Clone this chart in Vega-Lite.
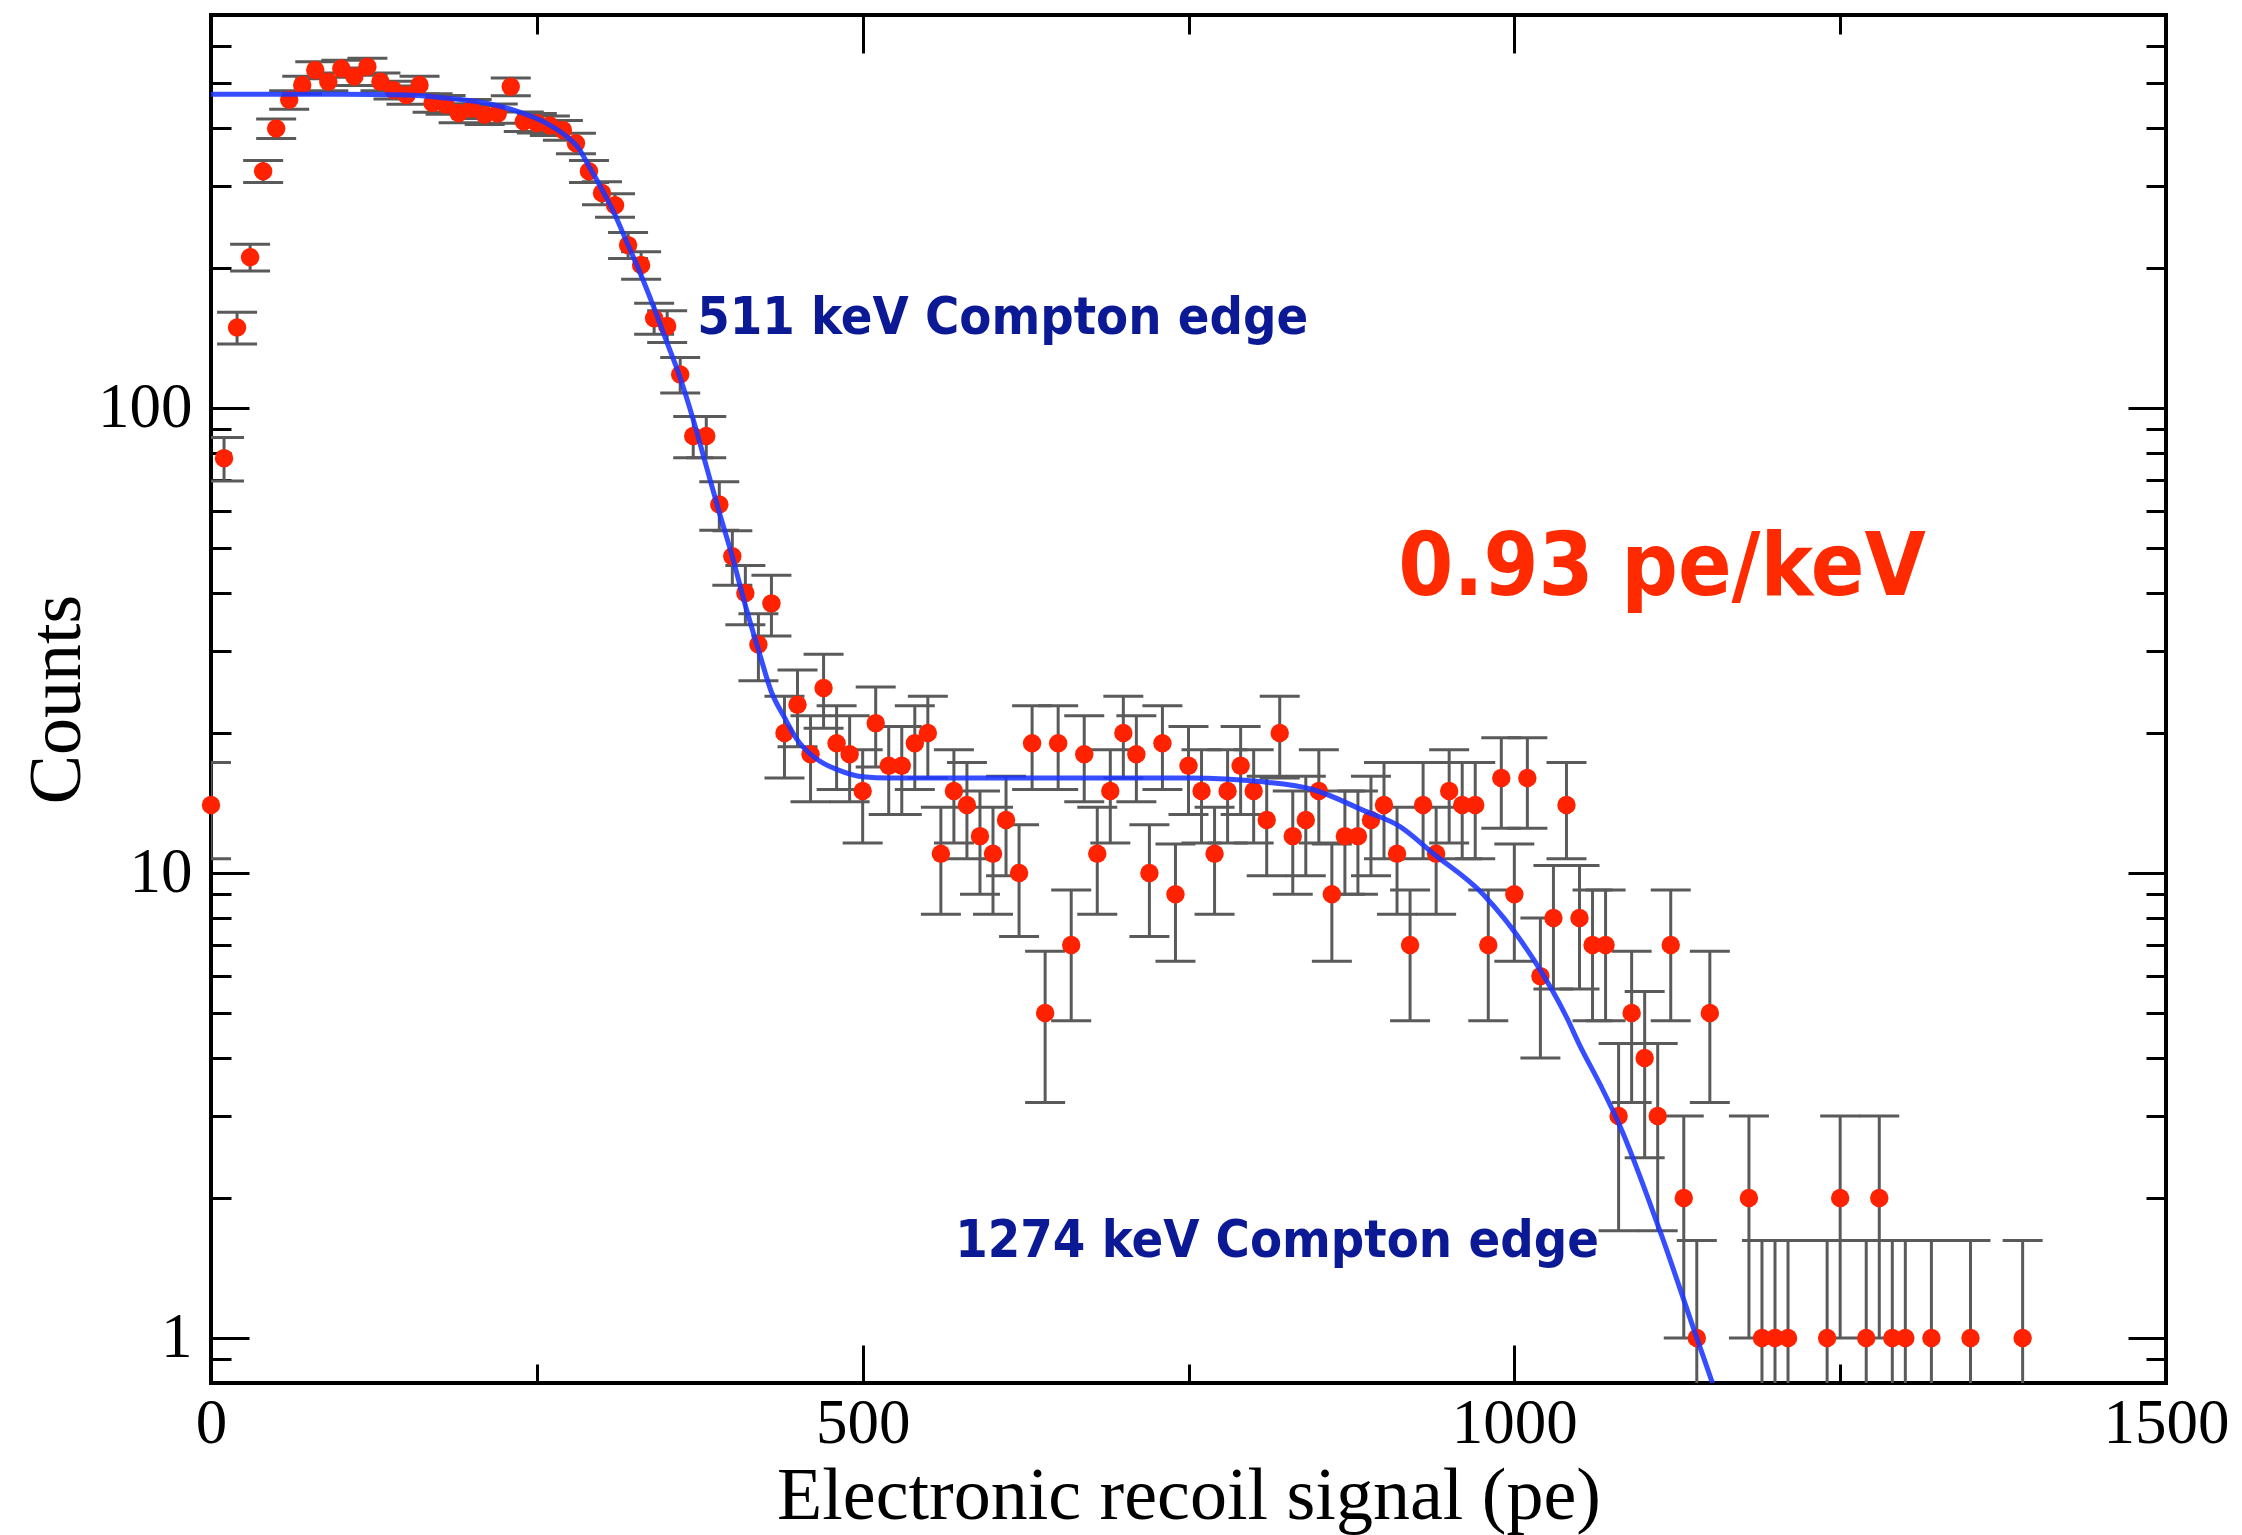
{
  "$schema": "https://vega.github.io/schema/vega-lite/v6.json",
  "width": 1955,
  "height": 1368,
  "autosize": {"type": "none"},
  "padding": {"left": 211, "top": 15, "right": 76, "bottom": 152},
  "background": "white",
  "config": {
    "view": {"stroke": "black", "strokeWidth": 4},
    "axis": {
      "grid": false,
      "domain": false,
      "tickColor": "black",
      "tickWidth": 3,
      "labelFont": "Liberation Serif",
      "labelFontSize": 63,
      "labelColor": "black",
      "titleFont": "Liberation Serif",
      "titleFontSize": 74,
      "titleFontWeight": "normal",
      "titleColor": "black"
    }
  },
  "datasets": {
    "pts": [
      {"x":0,"n":14,"lo":10.73,"hi":17.27},
      {"x":10,"n":78,"lo":69.65,"hi":86.35},
      {"x":20,"n":149,"lo":137.28,"hi":160.72},
      {"x":30,"n":211,"lo":196.97,"hi":225.03},
      {"x":40,"n":323,"lo":305.52,"hi":340.48},
      {"x":50,"n":399,"lo":379.52,"hi":418.48},
      {"x":60,"n":460,"lo":439.05,"hi":480.95},
      {"x":70,"n":495,"lo":473.25,"hi":516.75},
      {"x":80,"n":533,"lo":510.41,"hi":555.59},
      {"x":90,"n":503,"lo":481.07,"hi":524.93},
      {"x":100,"n":537,"lo":514.32,"hi":559.68},
      {"x":110,"n":516,"lo":493.78,"hi":538.22},
      {"x":120,"n":542,"lo":519.21,"hi":564.79},
      {"x":130,"n":503,"lo":481.07,"hi":524.93},
      {"x":140,"n":483,"lo":461.52,"hi":504.48},
      {"x":150,"n":471,"lo":449.79,"hi":492.21},
      {"x":160,"n":495,"lo":473.25,"hi":516.75},
      {"x":170,"n":453,"lo":432.21,"hi":473.79},
      {"x":180,"n":449,"lo":428.3,"hi":469.7},
      {"x":190,"n":431,"lo":410.73,"hi":451.27},
      {"x":200,"n":440,"lo":419.52,"hi":460.48},
      {"x":210,"n":427,"lo":406.83,"hi":447.17},
      {"x":220,"n":430,"lo":409.76,"hi":450.24},
      {"x":230,"n":491,"lo":469.34,"hi":512.66},
      {"x":240,"n":413,"lo":393.17,"hi":432.83},
      {"x":250,"n":410,"lo":390.25,"hi":429.76},
      {"x":260,"n":405,"lo":385.37,"hi":424.63},
      {"x":270,"n":396,"lo":376.59,"hi":415.41},
      {"x":280,"n":371,"lo":352.23,"hi":389.77},
      {"x":290,"n":323,"lo":305.52,"hi":340.48},
      {"x":300,"n":290,"lo":273.46,"hi":306.54},
      {"x":310,"n":273,"lo":256.97,"hi":289.03},
      {"x":320,"n":224,"lo":209.53,"hi":238.48},
      {"x":330,"n":203,"lo":189.24,"hi":216.76},
      {"x":340,"n":156,"lo":144,"hi":168},
      {"x":350,"n":150,"lo":138.24,"hi":161.76},
      {"x":360,"n":118,"lo":107.63,"hi":128.37},
      {"x":370,"n":87,"lo":78.16,"hi":95.84},
      {"x":380,"n":87,"lo":78.16,"hi":95.84},
      {"x":390,"n":62,"lo":54.61,"hi":69.39},
      {"x":400,"n":48,"lo":41.55,"hi":54.45},
      {"x":410,"n":40,"lo":34.16,"hi":45.84},
      {"x":420,"n":31,"lo":25.91,"hi":36.09},
      {"x":430,"n":38,"lo":32.32,"hi":43.68},
      {"x":440,"n":20,"lo":16,"hi":24},
      {"x":450,"n":23,"lo":18.68,"hi":27.32},
      {"x":460,"n":18,"lo":14.23,"hi":21.77},
      {"x":470,"n":25,"lo":20.48,"hi":29.52},
      {"x":480,"n":19,"lo":15.11,"hi":22.89},
      {"x":490,"n":18,"lo":14.23,"hi":21.77},
      {"x":500,"n":15,"lo":11.6,"hi":18.4},
      {"x":510,"n":21,"lo":16.89,"hi":25.11},
      {"x":520,"n":17,"lo":13.35,"hi":20.65},
      {"x":530,"n":17,"lo":13.35,"hi":20.65},
      {"x":540,"n":19,"lo":15.11,"hi":22.89},
      {"x":550,"n":20,"lo":16,"hi":24},
      {"x":560,"n":11,"lo":8.15,"hi":13.85},
      {"x":570,"n":15,"lo":11.6,"hi":18.4},
      {"x":580,"n":14,"lo":10.73,"hi":17.27},
      {"x":590,"n":12,"lo":9,"hi":15},
      {"x":600,"n":11,"lo":8.15,"hi":13.85},
      {"x":610,"n":13,"lo":9.86,"hi":16.14},
      {"x":620,"n":10,"lo":7.3,"hi":12.7},
      {"x":630,"n":19,"lo":15.11,"hi":22.89},
      {"x":640,"n":5,"lo":3.21,"hi":6.79},
      {"x":650,"n":19,"lo":15.11,"hi":22.89},
      {"x":660,"n":7,"lo":4.81,"hi":9.19},
      {"x":670,"n":18,"lo":14.23,"hi":21.77},
      {"x":680,"n":11,"lo":8.15,"hi":13.85},
      {"x":690,"n":15,"lo":11.6,"hi":18.4},
      {"x":700,"n":20,"lo":16,"hi":24},
      {"x":710,"n":18,"lo":14.23,"hi":21.77},
      {"x":720,"n":10,"lo":7.3,"hi":12.7},
      {"x":730,"n":19,"lo":15.11,"hi":22.89},
      {"x":740,"n":9,"lo":6.46,"hi":11.54},
      {"x":750,"n":17,"lo":13.35,"hi":20.65},
      {"x":760,"n":15,"lo":11.6,"hi":18.4},
      {"x":770,"n":11,"lo":8.15,"hi":13.85},
      {"x":780,"n":15,"lo":11.6,"hi":18.4},
      {"x":790,"n":17,"lo":13.35,"hi":20.65},
      {"x":800,"n":15,"lo":11.6,"hi":18.4},
      {"x":810,"n":13,"lo":9.86,"hi":16.14},
      {"x":820,"n":20,"lo":16,"hi":24},
      {"x":830,"n":12,"lo":9,"hi":15},
      {"x":840,"n":13,"lo":9.86,"hi":16.14},
      {"x":850,"n":15,"lo":11.6,"hi":18.4},
      {"x":860,"n":9,"lo":6.46,"hi":11.54},
      {"x":870,"n":12,"lo":9,"hi":15},
      {"x":880,"n":12,"lo":9,"hi":15},
      {"x":890,"n":13,"lo":9.86,"hi":16.14},
      {"x":900,"n":14,"lo":10.73,"hi":17.27},
      {"x":910,"n":11,"lo":8.15,"hi":13.85},
      {"x":920,"n":7,"lo":4.81,"hi":9.19},
      {"x":930,"n":14,"lo":10.73,"hi":17.27},
      {"x":940,"n":11,"lo":8.15,"hi":13.85},
      {"x":950,"n":15,"lo":11.6,"hi":18.4},
      {"x":960,"n":14,"lo":10.73,"hi":17.27},
      {"x":970,"n":14,"lo":10.73,"hi":17.27},
      {"x":980,"n":7,"lo":4.81,"hi":9.19},
      {"x":990,"n":16,"lo":12.47,"hi":19.53},
      {"x":1000,"n":9,"lo":6.46,"hi":11.54},
      {"x":1010,"n":16,"lo":12.47,"hi":19.53},
      {"x":1020,"n":6,"lo":4,"hi":8},
      {"x":1030,"n":8,"lo":5.63,"hi":10.37},
      {"x":1040,"n":14,"lo":10.73,"hi":17.27},
      {"x":1050,"n":8,"lo":5.63,"hi":10.37},
      {"x":1060,"n":7,"lo":4.81,"hi":9.19},
      {"x":1070,"n":7,"lo":4.81,"hi":9.19},
      {"x":1080,"n":3,"lo":1.7,"hi":4.3},
      {"x":1090,"n":5,"lo":3.21,"hi":6.79},
      {"x":1100,"n":4,"lo":2.44,"hi":5.56},
      {"x":1110,"n":3,"lo":1.7,"hi":4.3},
      {"x":1120,"n":7,"lo":4.81,"hi":9.19},
      {"x":1130,"n":2,"lo":1,"hi":3},
      {"x":1140,"n":1,"lo":0.38,"hi":1.62},
      {"x":1150,"n":5,"lo":3.21,"hi":6.79},
      {"x":1180,"n":2,"lo":1,"hi":3},
      {"x":1190,"n":1,"lo":0.38,"hi":1.62},
      {"x":1200,"n":1,"lo":0.38,"hi":1.62},
      {"x":1210,"n":1,"lo":0.38,"hi":1.62},
      {"x":1240,"n":1,"lo":0.38,"hi":1.62},
      {"x":1250,"n":2,"lo":1,"hi":3},
      {"x":1270,"n":1,"lo":0.38,"hi":1.62},
      {"x":1280,"n":2,"lo":1,"hi":3},
      {"x":1290,"n":1,"lo":0.38,"hi":1.62},
      {"x":1300,"n":1,"lo":0.38,"hi":1.62},
      {"x":1320,"n":1,"lo":0.38,"hi":1.62},
      {"x":1350,"n":1,"lo":0.38,"hi":1.62},
      {"x":1390,"n":1,"lo":0.38,"hi":1.62}
    ],
    "fit": [
      {"x":0,"y":473},{"x":100,"y":473},{"x":150,"y":471},{"x":180,"y":464},
      {"x":206,"y":455},{"x":231,"y":438},{"x":257,"y":410},{"x":270,"y":389},
      {"x":282,"y":362},{"x":290,"y":331},{"x":300,"y":295},{"x":310,"y":260},
      {"x":320,"y":224},{"x":330,"y":193},{"x":340,"y":164},{"x":350,"y":138},
      {"x":360,"y":116},{"x":370,"y":94.4},{"x":380,"y":75},{"x":390,"y":59.6},
      {"x":400,"y":47.9},{"x":410,"y":37.6},{"x":420,"y":30.2},{"x":430,"y":24.5},
      {"x":440,"y":21.6},{"x":450,"y":19.3},{"x":460,"y":18.0},{"x":470,"y":17.2},
      {"x":480,"y":16.7},{"x":500,"y":16.1},{"x":520,"y":16.0},{"x":750,"y":16.0},
      {"x":807,"y":15.7},{"x":846,"y":15.1},{"x":885,"y":13.6},{"x":912,"y":12.6},
      {"x":938,"y":11.0},{"x":976,"y":9.0},{"x":1015,"y":6.5},{"x":1040,"y":4.9},
      {"x":1050,"y":4.27},{"x":1066,"y":3.5},{"x":1080,"y":2.9},{"x":1112,"y":1.69},
      {"x":1140,"y":1.0},{"x":1152,"y":0.8},{"x":1160,"y":0.69}
    ]
  },
  "resolve": {"axis": {"x": "independent", "y": "independent"}},
  "layer": [
    {
      "data": {"name": "pts"},
      "mark": {"type": "rule", "color": "#5a5a5a", "strokeWidth": 3, "clip": true},
      "encoding": {
        "x": {"field": "x", "type": "quantitative", "scale": {"domain": [0, 1500], "nice": false, "zero": false},
              "axis": {"orient": "bottom", "values": [0, 500, 1000, 1500], "format": "d", "ticks": false, "tickSize": 0, "labelPadding": 9, "labelFlush": false, "labelOverlap": false, "labelBound": false,
                       "title": "Electronic recoil signal (pe)", "titleY": 135, "titleBaseline": "alphabetic", "titleAlign": "center"}},
        "y": {"field": "lo", "type": "quantitative", "scale": {"type": "log", "domain": [0.8, 700], "nice": false},
              "axis": {"orient": "left", "values": [1, 10, 100], "format": "d", "ticks": false, "tickSize": 0, "labelPadding": 19, "labelOverlap": false, "labelBound": false,
                       "title": "Counts", "titleX": -132, "titleY": 684, "titleAngle": 270, "titleAlign": "center", "titleBaseline": "alphabetic"}},
        "y2": {"field": "hi"}
      }
    },
    {
      "data": {"name": "pts"},
      "mark": {"type": "tick", "orient": "horizontal", "size": 40, "thickness": 3, "color": "#5a5a5a", "opacity": 1, "clip": true},
      "encoding": {
        "x": {"field": "x", "type": "quantitative", "scale": {"domain": [0, 1500], "nice": false, "zero": false},
              "axis": {"orient": "bottom", "values": [0, 500, 1000, 1500], "tickSize": -38, "labels": false, "title": null}},
        "y": {"field": "hi", "type": "quantitative", "scale": {"type": "log", "domain": [0.8, 700], "nice": false},
              "axis": {"orient": "left", "values": [1, 10, 100], "tickSize": -38, "labels": false, "title": null}}
      }
    },
    {
      "data": {"name": "pts"},
      "mark": {"type": "tick", "orient": "horizontal", "size": 40, "thickness": 3, "color": "#5a5a5a", "opacity": 1, "clip": true},
      "encoding": {
        "x": {"field": "x", "type": "quantitative", "scale": {"domain": [0, 1500], "nice": false, "zero": false},
              "axis": {"orient": "bottom", "values": [250, 750, 1250], "tickSize": -19, "labels": false, "title": null}},
        "y": {"field": "lo", "type": "quantitative", "scale": {"type": "log", "domain": [0.8, 700], "nice": false},
              "axis": {"orient": "left", "values": [0.9, 2, 3, 4, 5, 6, 7, 8, 9, 20, 30, 40, 50, 60, 70, 80, 90, 200, 300, 400, 500, 600, 700], "tickSize": -20, "labels": false, "title": null}}
      }
    },
    {
      "data": {"name": "pts"},
      "mark": {"type": "circle", "size": 340, "color": "#ff2200", "opacity": 1},
      "encoding": {
        "x": {"field": "x", "type": "quantitative", "scale": {"domain": [0, 1500], "nice": false, "zero": false},
              "axis": {"orient": "top", "values": [0, 500, 1000, 1500], "tickSize": -38, "labels": false, "title": null}},
        "y": {"field": "n", "type": "quantitative", "scale": {"type": "log", "domain": [0.8, 700], "nice": false},
              "axis": {"orient": "right", "values": [1, 10, 100], "tickSize": -38, "labels": false, "title": null}}
      }
    },
    {
      "data": {"name": "fit"},
      "mark": {"type": "line", "color": "#1a35ff", "strokeWidth": 5, "interpolate": "monotone", "clip": true, "opacity": 0.88},
      "encoding": {
        "x": {"field": "x", "type": "quantitative", "scale": {"domain": [0, 1500], "nice": false, "zero": false},
              "axis": {"orient": "top", "values": [250, 750, 1250], "tickSize": -19, "labels": false, "title": null}},
        "y": {"field": "y", "type": "quantitative", "scale": {"type": "log", "domain": [0.8, 700], "nice": false},
              "axis": {"orient": "right", "values": [0.9, 2, 3, 4, 5, 6, 7, 8, 9, 20, 30, 40, 50, 60, 70, 80, 90, 200, 300, 400, 500, 600, 700], "tickSize": -20, "labels": false, "title": null}}
      }
    },
    {
      "data": {"values": [
        {"x": 373, "y": 156, "label": "511 keV Compton edge"},
        {"x": 571, "y": 1.617, "label": "1274 keV Compton edge"}
      ]},
      "mark": {"type": "text", "align": "left", "baseline": "middle", "font": "DejaVu Sans Condensed, Liberation Sans Narrow, DejaVu Sans", "fontWeight": "bold", "fontSize": 52, "color": "#0b1a94"},
      "encoding": {
        "x": {"field": "x", "type": "quantitative", "scale": {"domain": [0, 1500], "nice": false, "zero": false}, "axis": null},
        "y": {"field": "y", "type": "quantitative", "scale": {"type": "log", "domain": [0.8, 700], "nice": false}, "axis": null},
        "text": {"field": "label"}
      }
    },
    {
      "data": {"values": [
        {"x": 911, "y": 45, "label": "0.93 pe/keV"}
      ]},
      "mark": {"type": "text", "align": "left", "baseline": "middle", "font": "DejaVu Sans Condensed, Liberation Sans Narrow, DejaVu Sans", "fontWeight": "bold", "fontSize": 88, "color": "#ff2a00"},
      "encoding": {
        "x": {"field": "x", "type": "quantitative", "scale": {"domain": [0, 1500], "nice": false, "zero": false}, "axis": null},
        "y": {"field": "y", "type": "quantitative", "scale": {"type": "log", "domain": [0.8, 700], "nice": false}, "axis": null},
        "text": {"field": "label"}
      }
    }
  ]
}
